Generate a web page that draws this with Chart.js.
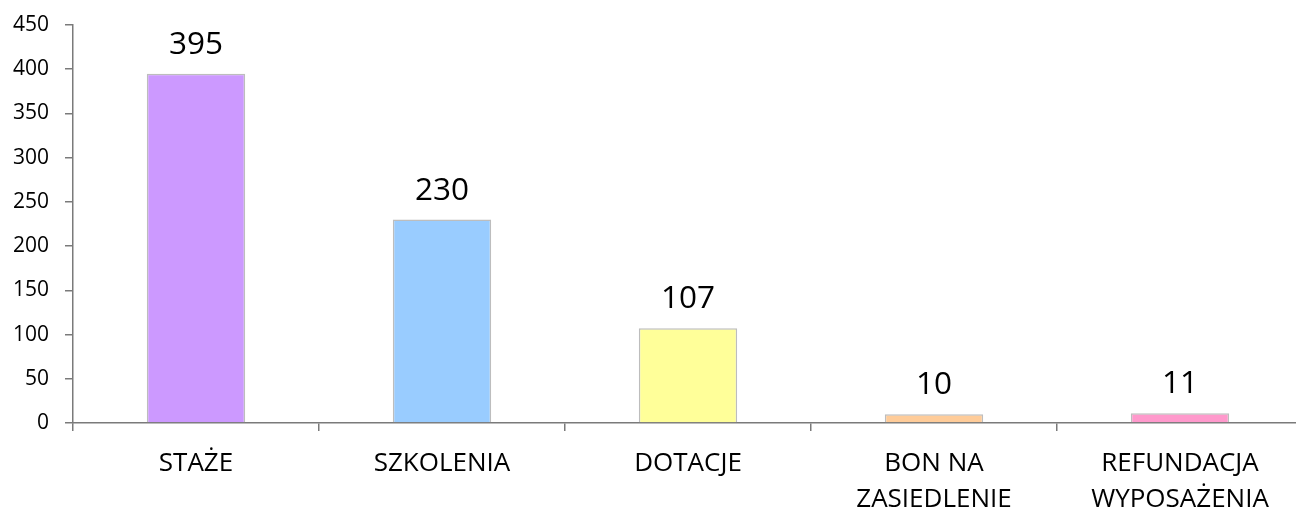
<!DOCTYPE html>
<html>
<head>
<meta charset="utf-8">
<script src="https://cdn.jsdelivr.net/npm/chart.js@4/dist/chart.umd.min.js"></script>
<style>
html,body{margin:0;padding:0;overflow:hidden;background:#fff;width:1296px;height:509px;}
canvas{display:block;}
</style>
</head>
<body>
<canvas id="c" width="1310" height="509"></canvas>
<script>
const categories = [["STAŻE"], ["SZKOLENIA"], ["DOTACJE"], ["BON NA", "ZASIEDLENIE"], ["REFUNDACJA", "WYPOSAŻENIA"]];
const values = [395, 230, 107, 10, 11];
const barColors = ["#CC99FF", "#99CCFF", "#FFFF99", "#FFCC99", "#FF99CC"];
const yTicks = { min: 0, max: 450, step: 50 };

const valueLabels = {
  id: 'valueLabels',
  afterDatasetsDraw(chart) {
    const ctx = chart.ctx;
    const meta = chart.getDatasetMeta(0);
    ctx.save();
    ctx.font = '31.5px "Open Sans"';
    ctx.fillStyle = '#000';
    ctx.textAlign = 'center';
    ctx.textBaseline = 'alphabetic';
    meta.data.forEach((el, i) => {
      ctx.fillText(String(chart.data.datasets[0].data[i]), el.x, el.y - 20);
    });
    ctx.restore();
  }
};

new Chart(document.getElementById('c'), {
  type: 'bar',
  data: {
    labels: categories,
    datasets: [{
      data: values,
      backgroundColor: barColors,
      borderColor: '#BDBDBD',
      borderWidth: 1.5,
      categoryPercentage: 1,
      barPercentage: 0.4
    }]
  },
  options: {
    responsive: false,
    animation: false,
    layout: { padding: { top: 25, right: 7, left: 0, bottom: 0 } },
    plugins: { legend: { display: false }, tooltip: { enabled: false } },
    scales: {
      x: {
        afterFit(s) { s.height = 86; s.paddingLeft = 0; s.paddingRight = 0; },
        grid: { display: true, drawOnChartArea: false, drawTicks: true, tickLength: 8, color: '#7a7a7a', lineWidth: 1.5, offset: true },
        border: { display: true, color: '#7a7a7a', width: 1.5 },
        ticks: { color: '#000', font: { family: 'Open Sans', size: 26, lineHeight: 1.4 }, padding: 14, maxRotation: 0, autoSkip: false }
      },
      y: {
        min: yTicks.min, max: yTicks.max,
        afterFit(s) { s.width = 73; s.paddingTop = 0; s.paddingBottom = 0; },
        grid: { display: true, drawOnChartArea: false, drawTicks: true, tickLength: 8, color: '#7a7a7a', lineWidth: 1.5 },
        border: { display: true, color: '#7a7a7a', width: 1.5 },
        ticks: { stepSize: yTicks.step, color: '#000', font: { family: 'Open Sans', size: 21 }, padding: 16 }
      }
    }
  },
  plugins: [valueLabels]
});
</script>
</body>
</html>
